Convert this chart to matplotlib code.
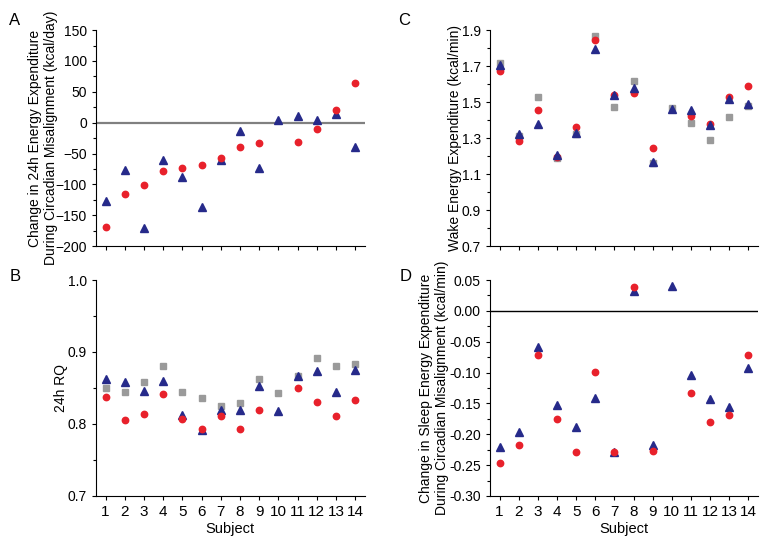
import matplotlib.pyplot as plt
import numpy as np

plt.rcParams['font.family'] = ['Liberation Sans', 'DejaVu Sans']
plt.rcParams['font.size'] = 10

subjects = np.arange(1, 15)

# A: change in 24h energy expenditure (kcal/day); subject 10 has no red value
a_red = [-169, -116, -101, -79, -74, -68, -58, -39, -33, np.nan, -31, -11, 21, 65]
a_tri = [-127, -77, -171, -61, -88, -137, -61, -14, -73, 5, 11, 5, 14, -40]

# B: 24h RQ
b_gray = [0.850, 0.844, 0.858, 0.881, 0.844, 0.836, 0.825, 0.829, 0.862, 0.843, 0.866, 0.891, 0.881, 0.884]
b_tri = [0.862, 0.858, 0.846, 0.860, 0.813, 0.792, 0.820, 0.820, 0.853, 0.818, 0.867, 0.873, 0.844, 0.875]
b_red = [0.838, 0.805, 0.814, 0.841, 0.807, 0.793, 0.811, 0.793, 0.820, np.nan, 0.850, 0.831, 0.811, 0.833]

# C: wake energy expenditure (kcal/min)
c_gray = [1.720, 1.310, 1.526, 1.187, 1.322, 1.868, 1.474, 1.615, 1.159, 1.470, 1.385, 1.289, 1.415, 1.481]
c_tri = [1.706, 1.320, 1.378, 1.206, 1.330, 1.796, 1.537, 1.581, 1.167, 1.459, 1.456, 1.374, 1.517, 1.491]
c_red = [1.674, 1.283, 1.457, 1.196, 1.363, 1.846, 1.537, 1.550, 1.246, np.nan, 1.424, 1.378, 1.528, 1.591]

# D: change in sleep energy expenditure (kcal/min)
d_tri = [-0.220, -0.196, -0.059, -0.152, -0.189, -0.141, -0.228, 0.032, -0.217, 0.040, -0.104, -0.143, -0.156, -0.093]
d_red = [-0.246, -0.217, -0.072, -0.175, -0.229, -0.099, -0.228, 0.039, -0.227, np.nan, -0.133, -0.180, -0.169, -0.072]

RED = '#e8212b'
NAVY = '#262a8a'
GRAY = '#9a9a9a'


def style(ax, ylim, major, minor, show_x):
    ax.set_xlim(0.5, 14.5)
    ax.set_ylim(*ylim)
    ax.spines['top'].set_visible(False)
    ax.spines['right'].set_visible(False)
    ax.set_xticks(subjects)
    ax.set_yticks(np.arange(ylim[0], ylim[1] + major / 2, major))
    ax.set_yticks(np.arange(ylim[0], ylim[1] + minor / 2, minor), minor=True)
    ax.tick_params(direction='out', length=3, width=0.8)
    ax.tick_params(which='minor', direction='out', length=2, width=0.8)
    if show_x:
        ax.set_xlabel('Subject', fontsize=10.5, labelpad=2)
        ax.tick_params(axis='x', labelsize=11)
    else:
        ax.tick_params(axis='x', labelbottom=False)
    ax.tick_params(axis='y', labelsize=10)


fig = plt.figure(figsize=(7.68, 5.48), dpi=100)
axA = fig.add_axes([0.125, 0.551, 0.350, 0.394])
axB = fig.add_axes([0.125, 0.095, 0.350, 0.394])
axC = fig.add_axes([0.638, 0.551, 0.349, 0.394])
axD = fig.add_axes([0.638, 0.095, 0.349, 0.394])

ms_c, ms_t, ms_s = 4.6, 5.6, 4.2

# A
axA.axhline(0, color='#808080', linewidth=1.6, zorder=1)
axA.plot(subjects, a_tri, '^', color=NAVY, ms=ms_t, ls='none', zorder=3)
axA.plot(subjects, a_red, 'o', color=RED, ms=ms_c, ls='none', zorder=3)
style(axA, (-200, 150), 50, 25, False)
axA.set_ylabel('Change in 24h Energy Expenditure\nDuring Circadian Misalignment (kcal/day)', fontsize=10)
axA.yaxis.set_label_coords(-0.142, 0.5)

# B
axB.plot(subjects, b_gray, 's', color=GRAY, ms=ms_s, ls='none', zorder=2)
axB.plot(subjects, b_tri, '^', color=NAVY, ms=ms_t, ls='none', zorder=3)
axB.plot(subjects, b_red, 'o', color=RED, ms=ms_c, ls='none', zorder=4)
style(axB, (0.7, 1.0), 0.1, 0.05, True)
axB.set_yticklabels(['0.7', '0.8', '0.9', '1.0'])
axB.set_ylabel('24h RQ', fontsize=10)
axB.yaxis.set_label_coords(-0.104, 0.5)

# C
axC.plot(subjects, c_gray, 's', color=GRAY, ms=ms_s, ls='none', zorder=2)
axC.plot(subjects, c_red, 'o', color=RED, ms=ms_c, ls='none', zorder=3)
axC.plot(subjects, c_tri, '^', color=NAVY, ms=ms_t, ls='none', zorder=4)
style(axC, (0.7, 1.9), 0.2, 0.1, False)
axC.set_yticklabels(['0.7', '0.9', '1.1', '1.3', '1.5', '1.7', '1.9'])
axC.set_ylabel('Wake Energy Expenditure (kcal/min)', fontsize=10)
axC.yaxis.set_label_coords(-0.104, 0.5)

# D
axD.axhline(0, color='black', linewidth=1.0, zorder=1)
axD.plot(subjects, d_tri, '^', color=NAVY, ms=ms_t, ls='none', zorder=3)
axD.plot(subjects, d_red, 'o', color=RED, ms=ms_c, ls='none', zorder=4)
style(axD, (-0.30, 0.05), 0.05, 0.025, True)
axD.set_yticklabels(['-0.30', '-0.25', '-0.20', '-0.15', '-0.10', '-0.05', '0.00', '0.05'])
axD.set_ylabel('Change in Sleep Energy Expenditure\nDuring Circadian Misalignment (kcal/min)', fontsize=10)
axD.yaxis.set_label_coords(-0.153, 0.5)

fig.text(0.012, 0.963, 'A', fontsize=12, va='center')
fig.text(0.012, 0.495, 'B', fontsize=12, va='center')
fig.text(0.518, 0.963, 'C', fontsize=12, va='center')
fig.text(0.520, 0.495, 'D', fontsize=12, va='center')

fig.savefig('out.png', dpi=100)
